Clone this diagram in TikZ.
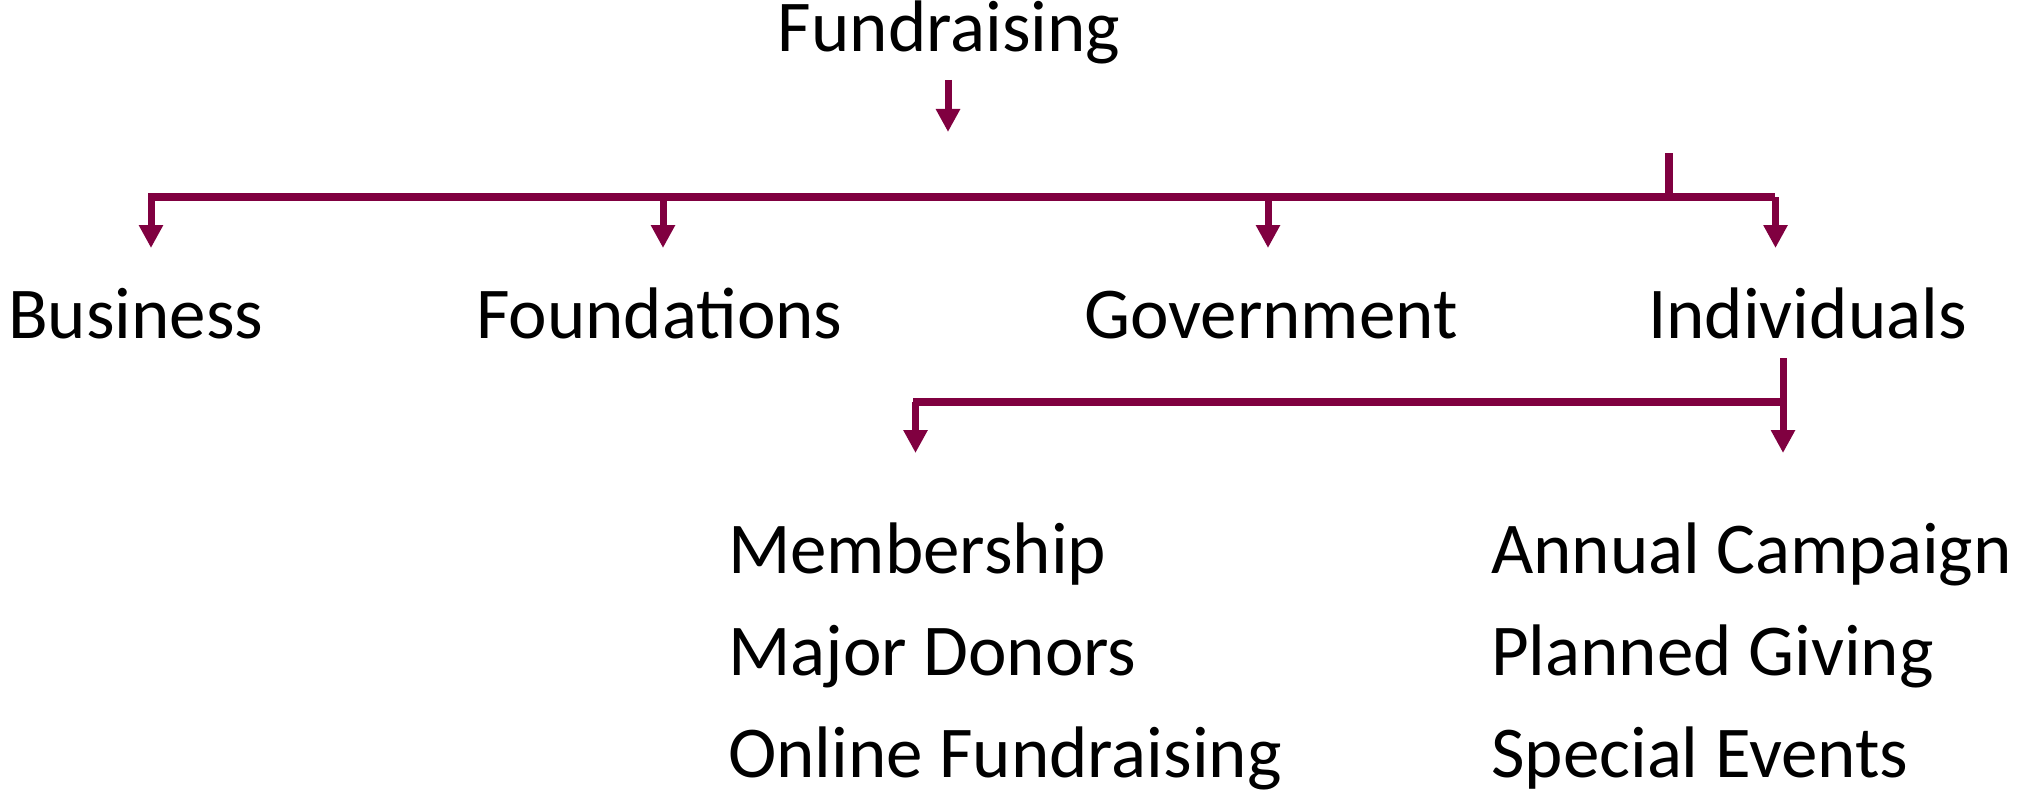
\documentclass[tikz,border=0pt]{standalone}
\usepackage{fontspec}
\setmainfont{Carlito}
\usetikzlibrary{arrows.meta}
\definecolor{maroon}{RGB}{128,0,64}
\begin{document}
\begin{tikzpicture}[x=1pt,y=-1pt,
 lbl/.style={inner sep=0pt,anchor=base west,font=\fontsize{73}{80}\selectfont},
 bar/.style={draw=maroon,line width=8pt},
 tick/.style={draw=maroon,line width=7.5pt},
 arr/.style={draw=maroon,line width=7pt,-{Triangle[width=23pt,length=23pt]}},
]
\useasboundingbox (0,0) rectangle (2023,797);
% texts
\node[lbl,anchor=base] (fund) at (949,52) {Fundraising};
\node[lbl] (bus) at (8,338) {Business};
\node[lbl] (found) at (476,338) {Foundations};
\node[lbl] (gov) at (1084,338) {Government};
\node[lbl] (ind) at (1648,338) {Individuals};
\node[lbl] (mem) at (728,573) {Membership};
\node[lbl] (maj) at (728,675) {Major Donors};
\node[lbl] (onl) at (728,777) {Online Fundraising};
\node[lbl] (ann) at (1491,573) {Annual Campaign};
\node[lbl] (pla) at (1491,675) {Planned Giving};
\node[lbl] (spe) at (1491,777) {Special Events};
% coordinates
\coordinate (t1) at (948,80);
\coordinate (t2) at (948,132);
\coordinate (bL) at (148,197);
\coordinate (bR) at (1775,197);
\coordinate (j1) at (151,197);
\coordinate (j2) at (663,197);
\coordinate (j3) at (1268,197);
\coordinate (j4) at (1775.5,197);
\coordinate (e1) at (151,248);
\coordinate (e2) at (663,248);
\coordinate (e3) at (1268,248);
\coordinate (e4) at (1775.5,248);
\coordinate (k1) at (1669,153);
\coordinate (k2) at (1669,197);
\coordinate (v1) at (1783,358);
\coordinate (v2) at (1783,453);
\coordinate (cL) at (913,402);
\coordinate (cR) at (1783,402);
\coordinate (m1) at (915.5,402);
\coordinate (m2) at (915.5,453);
% connectors
\draw[arr] (t1) -- (t2);
\draw[bar] (bL) -- (bR);
\draw[tick] (k1) -- (k2);
\draw[arr] (j1) -- (e1);
\draw[arr] (j2) -- (e2);
\draw[arr] (j3) -- (e3);
\draw[arr] (j4) -- (e4);
\draw[bar] (cL) -- (cR);
\draw[arr] (v1) -- (v2);
\draw[arr] (m1) -- (m2);
\end{tikzpicture}
\end{document}
